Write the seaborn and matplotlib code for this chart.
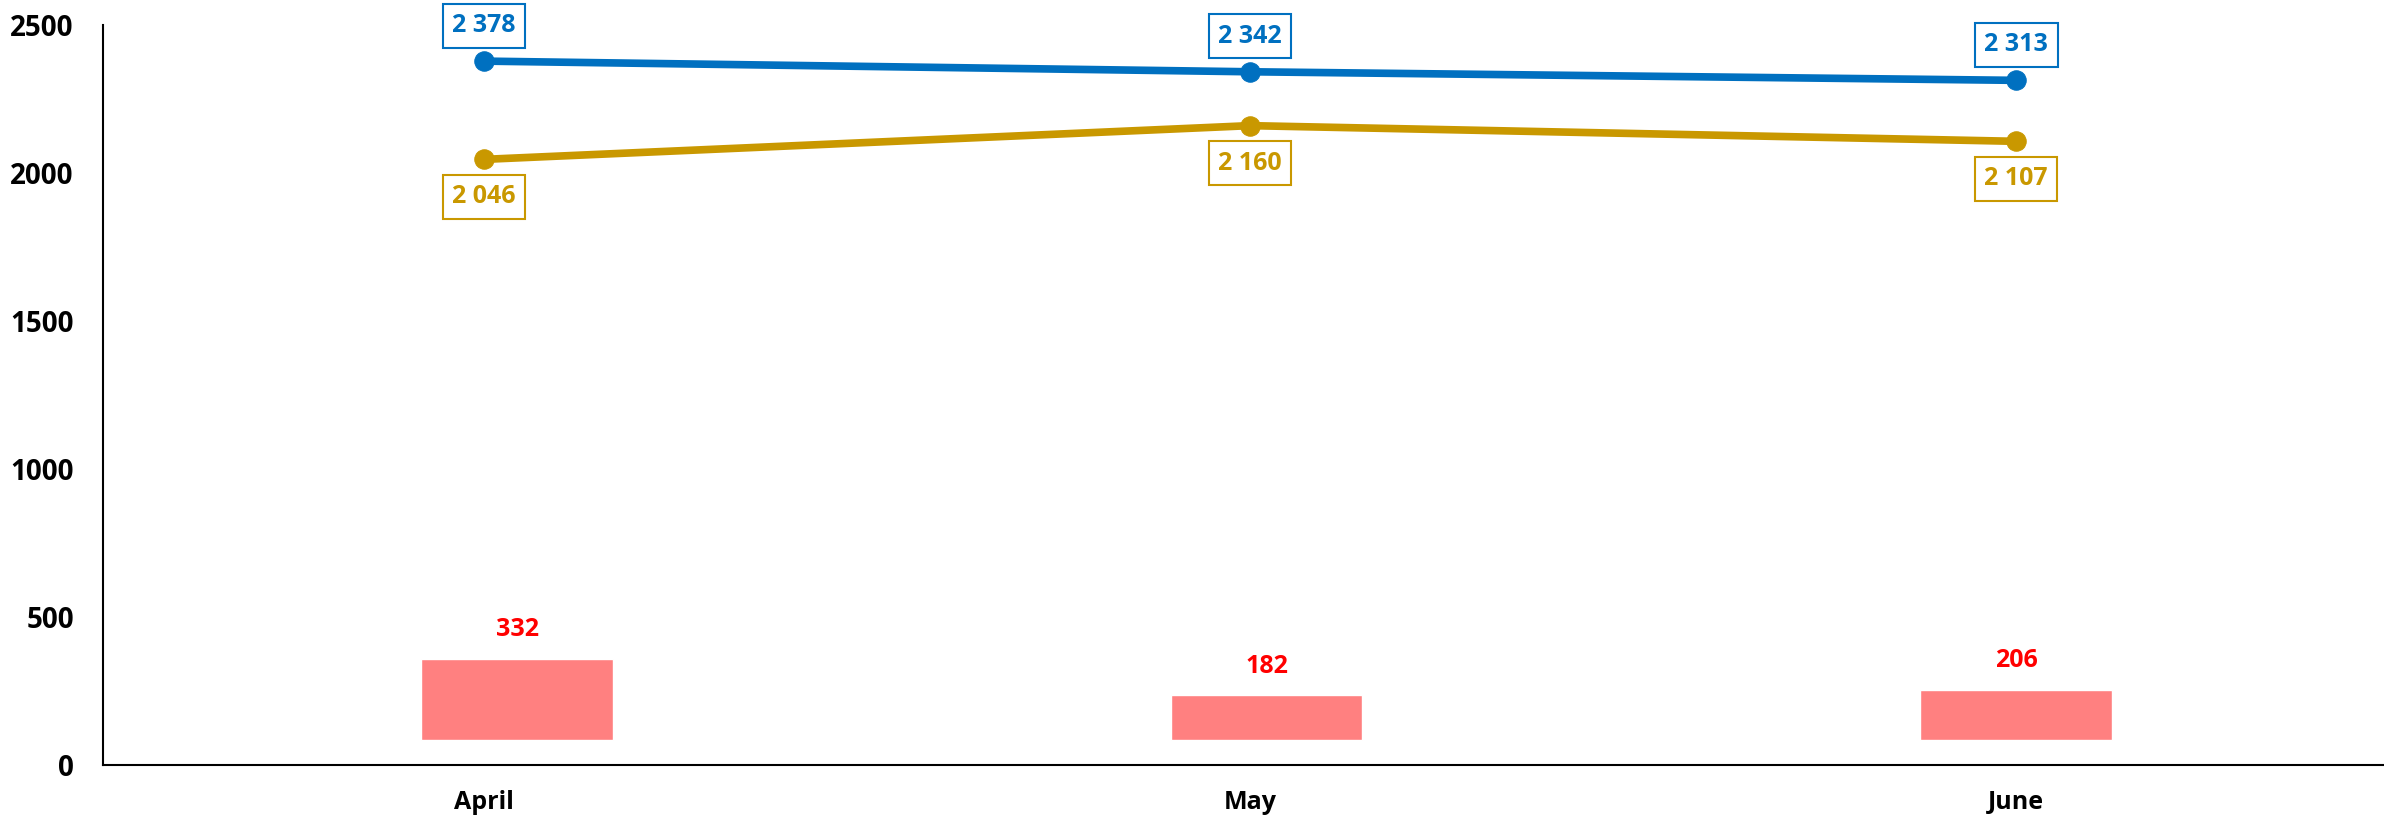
import matplotlib
matplotlib.use("Agg")
import matplotlib.pyplot as plt
import seaborn as sns
import pandas as pd

months = ["April", "May", "June"]
series_top = [2378, 2342, 2313]
series_bottom = [2046, 2160, 2107]
gap = [332, 182, 206]
y_ticks = [0, 500, 1000, 1500, 2000, 2500]

BLUE = "#0070C0"
GOLD = "#C99800"
PINK = "#FF8080"
RED = "#FF0000"

sns.set_style("white")
plt.rcParams["font.family"] = ["Open Sans", "DejaVu Sans"]
plt.rcParams["font.weight"] = "bold"

def fmt(v):
    return f"{v:,}".replace(",", " ")

df = pd.DataFrame({
    "pos": list(range(len(months))),
    "month": months,
    "top": series_top,
    "bottom": series_bottom,
    "gap": gap,
})

fig = plt.figure(figsize=(23.84, 8.17), dpi=100)
W, H = 2384, 817
rect = [103 / W, 1 - 765 / H, (W - 103) / W, (765 - 25) / H]

# difference bars on their own hidden axes, underneath the main one
axb = fig.add_axes(rect, zorder=0)
sns.barplot(data=df, x="pos", y="gap", color=PINK, width=0.256, saturation=1,
            ax=axb, native_scale=True)
axb.set_xlim(-0.5524, 2.491)
axb.set_ylim(-102, 2918)
axb.axis("off")
for p, v in zip(df["pos"], df["gap"]):
    axb.annotate(str(v), (p, v), xytext=(0, 21), textcoords="offset points",
                 ha="center", va="center", color=RED, fontsize=18, fontweight="bold")

ax = fig.add_axes(rect, zorder=1)
ax.patch.set_visible(False)

# the two series
sns.lineplot(data=df, x="pos", y="top", color=BLUE, lw=5.5, marker="o", ms=14,
             mec=BLUE, ax=ax)
sns.lineplot(data=df, x="pos", y="bottom", color=GOLD, lw=5.5, marker="o", ms=14,
             mec=GOLD, ax=ax)

box_kw = dict(boxstyle="square,pad=0.38", fc="white", lw=1.5)
for p, v in zip(df["pos"], df["top"]):
    ax.annotate(fmt(v), (p, v), xytext=(0, 25.5), textcoords="offset points",
                ha="center", va="center", color=BLUE, fontsize=18, fontweight="bold",
                bbox=dict(ec=BLUE, **box_kw))
for p, v in zip(df["pos"], df["bottom"]):
    ax.annotate(fmt(v), (p, v), xytext=(0, -27), textcoords="offset points",
                ha="center", va="center", color=GOLD, fontsize=18, fontweight="bold",
                bbox=dict(ec=GOLD, **box_kw))

ax.set_xlim(-0.497, 2.480)
ax.set_ylim(0, 2500)
ax.set_xticks(df["pos"])
ax.set_xticklabels(months)
ax.set_yticks(y_ticks)
ax.set_yticklabels([str(t) for t in y_ticks])
ax.set_xlabel("")
ax.set_ylabel("")
ax.tick_params(axis="both", length=0, colors="black")
ax.tick_params(axis="y", pad=21, labelsize=20)
ax.tick_params(axis="x", pad=18, labelsize=18)
for lab in ax.get_xticklabels() + ax.get_yticklabels():
    lab.set_fontweight("bold")

for s in ["top", "right"]:
    ax.spines[s].set_visible(False)
for s in ["left", "bottom"]:
    ax.spines[s].set_color("black")
    ax.spines[s].set_linewidth(1.5)

fig.savefig("out.png", dpi=100, facecolor="white")
